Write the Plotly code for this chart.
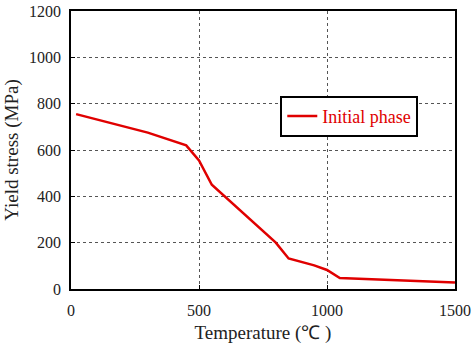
import plotly.graph_objects as go

temperature = [20, 300, 450, 500, 550, 800, 850, 950, 1000, 1050, 1500]
yield_stress = [755, 675, 620, 555, 450, 200, 132, 102, 82, 47, 28]
series_name = "Initial phase"
x_ticks = [0, 500, 1000, 1500]
y_ticks = [0, 200, 400, 600, 800, 1000, 1200]

fig = go.Figure()
fig.add_trace(go.Scatter(x=temperature, y=yield_stress, mode="lines",
                         name=series_name,
                         line=dict(color="#e00000", width=2.5)))

font_family = "Liberation Serif, Times New Roman, serif"
fig.update_layout(
    width=476, height=347,
    margin=dict(l=71, r=21, t=11, b=58),
    paper_bgcolor="white", plot_bgcolor="white",
    font=dict(family=font_family, size=16, color="#222"),
    showlegend=True,
    legend=dict(x=0.545, y=0.695, xanchor="left", yanchor="top",
                bordercolor="black", borderwidth=2, bgcolor="white",
                font=dict(color="#e00000", size=18, family=font_family),
                itemwidth=30),
    xaxis=dict(range=[0, 1500], tickvals=x_ticks, showgrid=True,
               gridcolor="#555", griddash="dot", gridwidth=1,
               showline=True, linecolor="black", linewidth=1.5, mirror=True,
               ticks="inside", ticklen=4, tickcolor="black",
               ticklabelstandoff=6, automargin=False,
               zeroline=False, title=dict(text="Temperature (℃ )", standoff=8)),
    yaxis=dict(range=[0, 1200], tickvals=y_ticks, showgrid=True,
               gridcolor="#555", griddash="dot", gridwidth=1,
               showline=True, linecolor="black", linewidth=1.5, mirror=True,
               ticks="inside", ticklen=4, tickcolor="black",
               ticklabelstandoff=5, automargin=False,
               zeroline=False,
               title=dict(text="Yield stress (MPa)", standoff=5)),
)
fig.write_html("out.html")
